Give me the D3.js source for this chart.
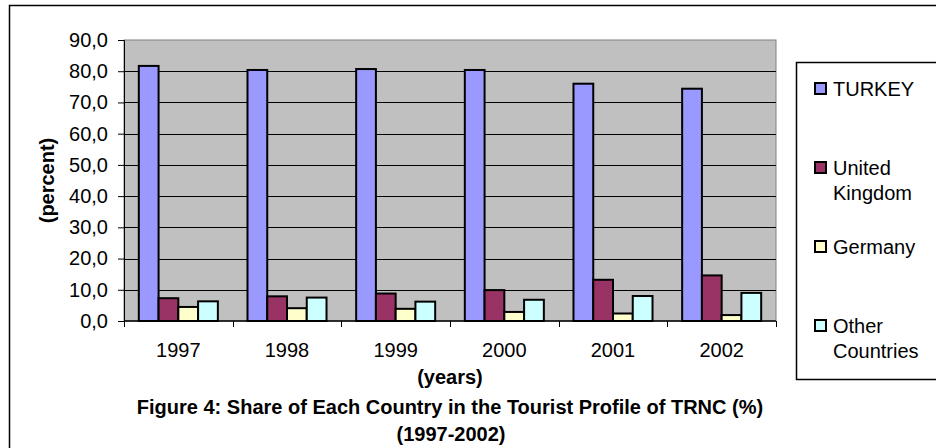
<!DOCTYPE html>
<html>
<head>
<meta charset="utf-8">
<script src="https://cdn.jsdelivr.net/npm/d3@7"></script>
<style>
  body { margin: 0; background: #fff; }
  text { font-family: "Liberation Sans", Arial, sans-serif; fill: #000; }
</style>
</head>
<body>
<svg id="chart" width="936" height="448"></svg>
<script>
var years = ["1997", "1998", "1999", "2000", "2001", "2002"]
var seriesNames = ["TURKEY", "United Kingdom", "Germany", "Other Countries"]
var turkey = [81.7, 80.4, 80.7, 80.4, 76.0, 74.4]
var unitedKingdom = [7.3, 7.9, 8.8, 9.9, 13.2, 14.6]
var germany = [4.5, 4.1, 3.9, 2.9, 2.4, 1.9]
var otherCountries = [6.3, 7.5, 6.2, 6.8, 8.0, 9.0]
var yTicks = [0, 10, 20, 30, 40, 50, 60, 70, 80, 90]
var colors = ["#9999ff", "#993366", "#ffffcc", "#ccffff"]

var allSeries = [turkey, unitedKingdom, germany, otherCountries]

var svg = d3.select("#chart")

// outer frame (cut off on right and bottom like the original)
svg.append("rect")
  .attr("x", 9.5).attr("y", 5.5)
  .attr("width", 1000).attr("height", 1000)
  .attr("fill", "none").attr("stroke", "#000").attr("stroke-width", 1.5)

var plot = { left: 124, right: 776, top: 40, bottom: 321 }

var y = d3.scaleLinear().domain([0, 90]).range([plot.bottom, plot.top])

var pad = 1.5 / 5.5
var x0 = d3.scaleBand().domain(years)
  .range([plot.left, plot.right])
  .paddingInner(pad).paddingOuter(pad / 2)

var x1 = d3.scaleBand().domain(d3.range(seriesNames.length))
  .range([0, x0.bandwidth()])

// plot area
svg.append("rect")
  .attr("x", plot.left).attr("y", plot.top)
  .attr("width", plot.right - plot.left).attr("height", plot.bottom - plot.top)
  .attr("fill", "#c0c0c0").attr("stroke", "#808080").attr("stroke-width", 1)

// gridlines
svg.append("g")
  .selectAll("line")
  .data(yTicks.filter(function (d) { return d > 0 && d < 90 }))
  .enter().append("line")
  .attr("x1", plot.left).attr("x2", plot.right)
  .attr("y1", function (d) { return Math.round(y(d)) + 0.5 })
  .attr("y2", function (d) { return Math.round(y(d)) + 0.5 })
  .attr("stroke", "#000").attr("stroke-width", 1)

// bars
var groups = svg.append("g")
  .selectAll("g")
  .data(years)
  .enter().append("g")
  .attr("transform", function (d) { return "translate(" + x0(d) + ",0)" })

groups.selectAll("rect")
  .data(function (d, i) {
    return allSeries.map(function (s, k) { return { k: k, v: s[i] } })
  })
  .enter().append("rect")
  .attr("x", function (d) { return x1(d.k) })
  .attr("y", function (d) { return y(d.v) })
  .attr("width", x1.bandwidth())
  .attr("height", function (d) { return y(0) - y(d.v) })
  .attr("fill", function (d) { return colors[d.k] })
  .attr("stroke", "#000").attr("stroke-width", 2)

// y axis
var yAxis = d3.axisLeft(y)
  .tickValues(yTicks)
  .tickSize(6)
  .tickPadding(10)
  .tickFormat(function (d) { return d3.format(".1f")(d).replace(".", ",") })

var gy = svg.append("g")
  .attr("transform", "translate(" + plot.left + ",0)")
  .call(yAxis)
gy.select(".domain").attr("stroke", "#000")
gy.selectAll(".tick line").attr("stroke", "#000")
gy.selectAll("text")
  .style("font-size", "20px")
  .style("font-family", "'Liberation Sans', Arial, sans-serif")
  .attr("fill", "#000")

// x axis: baseline + ticks at group boundaries
var xg = svg.append("g")
xg.append("line")
  .attr("x1", plot.left).attr("x2", plot.right)
  .attr("y1", plot.bottom).attr("y2", plot.bottom)
  .attr("stroke", "#000").attr("stroke-width", 1.5)

var step = x0.step()
xg.selectAll(".xt")
  .data(d3.range(years.length + 1))
  .enter().append("line")
  .attr("x1", function (i) { return Math.round(plot.left + i * step) + 0.5 })
  .attr("x2", function (i) { return Math.round(plot.left + i * step) + 0.5 })
  .attr("y1", plot.bottom).attr("y2", plot.bottom + 6)
  .attr("stroke", "#000")

xg.selectAll(".xl")
  .data(years)
  .enter().append("text")
  .attr("x", function (d) { return x0(d) + x0.bandwidth() / 2 })
  .attr("y", 357)
  .attr("text-anchor", "middle")
  .style("font-size", "20px")
  .text(function (d) { return d })

// axis titles
svg.append("text")
  .attr("transform", "translate(54," + ((plot.top + plot.bottom) / 2) + ") rotate(-90)")
  .attr("text-anchor", "middle")
  .style("font-size", "20px").style("font-weight", "bold")
  .text("(percent)")

svg.append("text")
  .attr("x", 450).attr("y", 384)
  .attr("text-anchor", "middle")
  .style("font-size", "20px").style("font-weight", "bold")
  .text("(years)")

// caption
svg.append("text")
  .attr("x", 450).attr("y", 414)
  .attr("text-anchor", "middle")
  .style("font-size", "20px").style("font-weight", "bold")
  .text("Figure 4: Share of Each Country in the Tourist Profile of TRNC (%)")

svg.append("text")
  .attr("x", 451).attr("y", 441)
  .attr("text-anchor", "middle")
  .style("font-size", "20px").style("font-weight", "bold")
  .text("(1997-2002)")

// legend
svg.append("rect")
  .attr("x", 796.5).attr("y", 62.5)
  .attr("width", 200).attr("height", 317)
  .attr("fill", "#fff").attr("stroke", "#000").attr("stroke-width", 1.5)

var legendCenters = [89, 168, 247, 326]
var legendLines = [["TURKEY"], ["United", "Kingdom"], ["Germany"], ["Other", "Countries"]]

var li = svg.append("g")
  .selectAll("g")
  .data(seriesNames)
  .enter().append("g")
  .attr("transform", function (d, i) { return "translate(0," + legendCenters[i] + ")" })

li.append("rect")
  .attr("x", 815).attr("y", -6)
  .attr("width", 11).attr("height", 11)
  .attr("fill", function (d, i) { return colors[i] })
  .attr("stroke", "#000").attr("stroke-width", 2)

li.append("text")
  .attr("x", 833)
  .style("font-size", "20px")
  .selectAll("tspan")
  .data(function (d, i) { return legendLines[i] })
  .enter().append("tspan")
  .attr("x", 833)
  .attr("y", function (d, j) { return 7 + j * 25 })
  .text(function (d) { return d })
</script>
</body>
</html>
